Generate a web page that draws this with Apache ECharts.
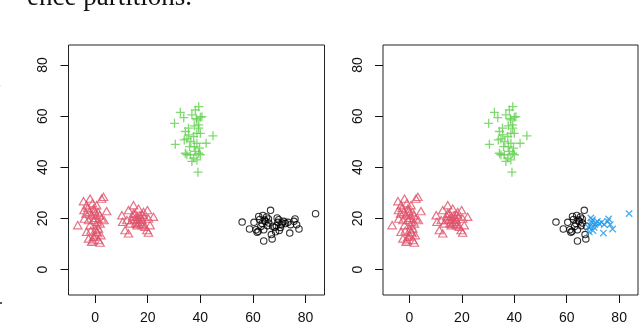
<!DOCTYPE html>
<html>
<head>
<meta charset="utf-8">
<script src="https://cdn.jsdelivr.net/npm/echarts@6/dist/echarts.min.js"></script>
<style>
html,body{margin:0;padding:0;background:#fff;}
#chart{width:640px;height:326px;}
</style>
</head>
<body>
<div id="chart"></div>
<script>
// Tick labels shared by both panels
var tickValues = [0, 20, 40, 60, 80];

// Cluster 1 & 2: red triangles
var triangles = [
  [-6.6,16.9],[-4.4,26.3],[-4.2,22.8],[-4.1,19.5],[-3.2,24.7],[-2.2,22.1],[-1.9,27.3],[-0.6,23.4],
  [0.0,21.5],[0.6,24.7],[-0.6,18.9],[-2.5,18.9],[-3.2,14.3],[-2.5,11.7],[-1.3,10.4],[-0.6,12.4],
  [0.6,14.3],[1.3,15.6],[1.3,11.1],[1.9,10.1],[1.9,17.6],[2.5,19.5],[2.5,27.3],[3.2,28.0],
  [4.4,22.4],[3.4,18.9],[1.7,20.8],[0.6,16.9],[0.0,13.0],[-1.9,16.9],[-1.3,20.8],[-3.4,21.5],
  [-1.0,25.5],[0.3,19.8],[1.0,13.8],[-2.8,23.6],[-0.2,22.6],[1.2,22.0],[0.8,18.2],[-1.6,14.8],
  [0.2,15.2],[-0.9,11.0],[2.2,13.0],
  [10.2,20.8],[10.5,18.2],[11.4,15.0],[12.7,13.7],[12.7,22.8],[14.6,24.7],[15.2,19.5],[15.9,16.9],
  [16.5,23.4],[17.1,20.8],[17.8,18.9],[18.4,22.1],[19.0,16.3],[19.7,15.0],[19.9,22.8],[20.3,19.5],
  [22.2,20.2],[14.0,18.9],[14.6,21.5],[13.3,17.6],[15.9,18.9],[16.5,17.6],[17.1,18.2],[18.2,16.9],
  [18.7,20.2],[12.1,18.9],[20.9,16.9],[17.5,19.5],[15.2,21.5],[20.3,14.0],[16.0,20.2],[18.0,21.0],
  [15.5,17.8],[17.6,17.4],[14.3,20.4]
];

// Cluster 3: green plus signs
var pluses = [
  [30.2,57.2],[30.5,49.0],[32.4,61.5],[33.7,59.4],[34.3,54.0],[34.9,51.1],[35.6,52.7],[34.9,44.9],
  [36.2,44.9],[36.8,60.5],[38.1,62.4],[39.4,63.7],[40.0,59.6],[38.7,58.5],[37.7,56.2],[38.7,53.3],
  [39.4,55.3],[40.0,53.3],[37.5,52.0],[36.4,50.1],[37.7,48.1],[38.7,49.4],[39.7,47.5],[38.1,46.2],
  [39.4,45.5],[40.0,44.9],[37.5,43.6],[36.8,42.3],[38.7,42.9],[39.1,38.1],[42.2,49.4],[44.8,52.3],
  [33.9,50.7],[35.9,48.1],[34.3,45.5],[40.6,59.8],[38.5,59.0],[39.4,56.6],[35.5,55.3]
];

// Cluster 4a: black circles in both panels
var circles = [
  [55.9,18.6],[58.7,15.9],[60.4,18.5],[61.6,14.6],[61.2,15.6],[62.2,20.8],[62.6,19.6],[63.0,16.9],
  [63.5,18.0],[64.1,15.6],[64.1,11.2],[64.4,19.4],[64.8,18.9],[65.2,20.6],[65.5,17.2],[66.0,18.2],
  [66.7,23.2],[67.0,13.7],[67.3,12.0],[67.5,17.0],[62.0,15.0],[63.8,21.2],[65.9,19.8]
];

// Cluster 4b: black circles in the left panel, blue crosses in the right panel
var crosses = [
  [68.3,16.5],[68.6,14.8],[69.2,20.2],[69.5,18.5],[70.0,15.3],[69.8,19.5],[70.7,17.6],[71.2,18.2],
  [71.7,18.9],[72.4,18.0],[73.3,18.5],[74.3,17.6],[74.0,14.3],[75.6,18.9],[76.0,19.8],[76.6,17.6],
  [77.5,15.9],[83.8,21.9],[68.9,17.2],[70.5,16.5]
];

var RED = '#DF536B', GREEN = '#61D04F', BLUE = '#2297E6', BLACK = '#000000';
var CLEAR = 'rgba(0,0,0,0)';
var FONT = 'Liberation Sans';

function xAx(g) {
  return {
    gridIndex: g, type: 'value', min: -10.1, max: 87.2,
    axisLine: {show: false, onZero: false}, splitLine: {show: false},
    axisTick: {show: true, inside: false, length: 8, customValues: tickValues,
               lineStyle: {color: '#111', width: 1}},
    axisLabel: {customValues: tickValues, fontSize: 14, color: '#111', fontFamily: FONT, margin: 16}
  };
}
function yAx(g) {
  return {
    gridIndex: g, type: 'value', min: -9.9, max: 87.8,
    axisLine: {show: false, onZero: false}, splitLine: {show: false},
    axisTick: {show: true, inside: false, length: 8, customValues: tickValues,
               lineStyle: {color: '#111', width: 1}},
    axisLabel: {customValues: tickValues, fontSize: 14, color: '#111', fontFamily: FONT,
                rotate: 90, margin: 18}
  };
}

function triSeries(g) {
  return {type: 'scatter', xAxisIndex: g, yAxisIndex: g, data: triangles,
    symbol: 'triangle', symbolSize: [8.4, 7.3], symbolOffset: [0, -1.2],
    itemStyle: {color: CLEAR, borderColor: RED, borderWidth: 1.2}};
}
function plusSeries(g) {
  return {type: 'scatter', xAxisIndex: g, yAxisIndex: g, data: pluses,
    symbol: 'path://M0,5L10,5M5,0L5,10', symbolSize: 9,
    itemStyle: {color: CLEAR, borderColor: GREEN, borderWidth: 1.3}};
}
function circSeries(g, d) {
  return {type: 'scatter', xAxisIndex: g, yAxisIndex: g, data: d,
    symbol: 'circle', symbolSize: 6.4,
    itemStyle: {color: CLEAR, borderColor: BLACK, borderWidth: 1.1}};
}
function crossSeries(g) {
  return {type: 'scatter', xAxisIndex: g, yAxisIndex: g, data: crosses,
    symbol: 'path://M0,0L10,10M0,10L10,0', symbolSize: 6.4,
    itemStyle: {color: CLEAR, borderColor: BLUE, borderWidth: 1.3}};
}

var chart = echarts.init(document.getElementById('chart'), null, {renderer: 'canvas'});
chart.setOption({
  animation: false,
  backgroundColor: '#fff',
  grid: [
    {left: 68.5, top: 45, width: 256, height: 250, show: true, borderColor: '#222', borderWidth: 1, backgroundColor: CLEAR},
    {left: 383, top: 45, width: 255, height: 250, show: true, borderColor: '#222', borderWidth: 1, backgroundColor: CLEAR}
  ],
  xAxis: [xAx(0), xAx(1)],
  yAxis: [yAx(0), yAx(1)],
  series: [
    triSeries(0), plusSeries(0), circSeries(0, circles), circSeries(0, crosses),
    triSeries(1), plusSeries(1), circSeries(1, circles), crossSeries(1)
  ],
  graphic: [
    {type: 'text', left: 27, top: -16, silent: true,
     style: {text: 'ence partitions.', font: '27px "Liberation Serif"', fill: '#111'}},
    {type: 'text', left: -1, top: 292, silent: true,
     style: {text: '.', font: '16px "Liberation Serif"', fill: '#222'}},
    {type: 'text', left: -1, top: 84, silent: true,
     style: {text: '\'', font: '9px "Liberation Serif"', fill: '#888'}}
  ]
});
</script>
</body>
</html>
